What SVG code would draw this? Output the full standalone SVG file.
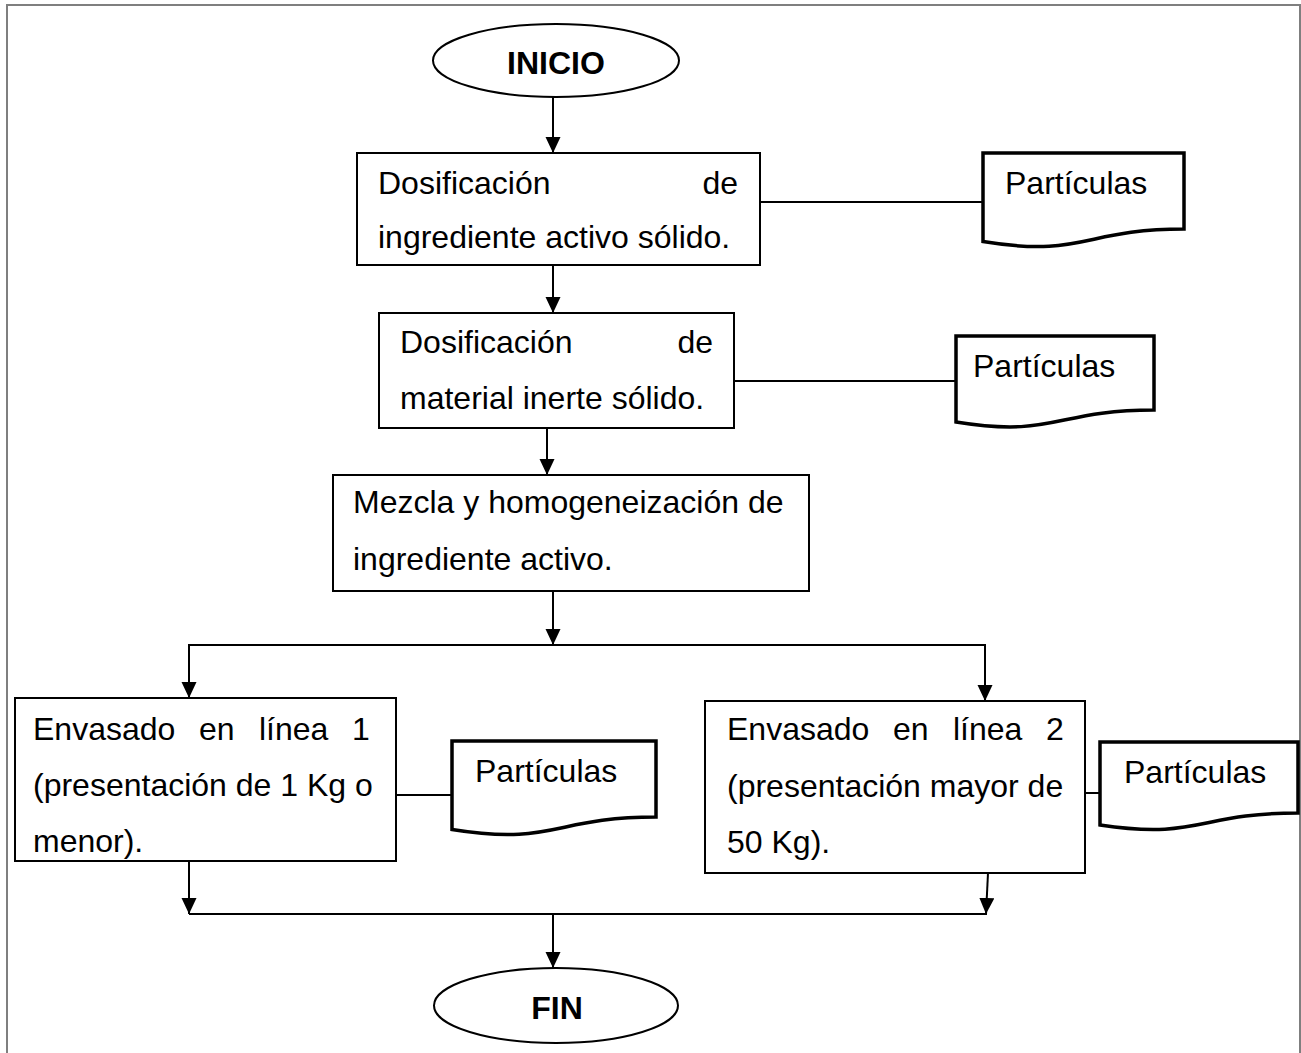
<svg xmlns="http://www.w3.org/2000/svg" width="1301" height="1053" viewBox="0 0 1301 1053">
  <style>
    .frame { fill: none; stroke: #7f7f7f; stroke-width: 2; }
    .box { fill: #ffffff; stroke: #000000; stroke-width: 2; }
    .term { fill: #ffffff; stroke: #000000; stroke-width: 2; }
    .doc { fill: #ffffff; stroke: #000000; stroke-width: 3.5; stroke-linejoin: miter; }
    .txt { font-family: "Liberation Sans", Arial, sans-serif; font-size: 32px; fill: #000000; }
    .bold { font-weight: bold; text-anchor: middle; }
    .end { text-anchor: end; }
    .link { fill: none; stroke: #000000; stroke-width: 2; }
  </style>
  <defs>
    <marker id="arrow" markerUnits="userSpaceOnUse" markerWidth="16" markerHeight="16" refX="16" refY="7.5" orient="auto">
      <path d="M0,0 L16,7.5 L0,15 Z" fill="#000000"/>
    </marker>
  </defs>

  <rect width="1301" height="1053" fill="#ffffff"/>
  <!-- page frame (open at the bottom) -->
  <path class="frame" d="M7,1053 V5 H1300 V1053"/>

  <!-- connectors -->
  <g id="connectors">
    <line class="link" x1="553" y1="97" x2="553" y2="153" marker-end="url(#arrow)"/>
    <line class="link" x1="553" y1="265" x2="553" y2="313" marker-end="url(#arrow)"/>
    <line class="link" x1="547" y1="428" x2="547" y2="475" marker-end="url(#arrow)"/>
    <line class="link" x1="553" y1="591" x2="553" y2="645" marker-end="url(#arrow)"/>
    <line class="link" x1="188" y1="645" x2="986" y2="645"/>
    <line class="link" x1="189" y1="645" x2="189" y2="698" marker-end="url(#arrow)"/>
    <line class="link" x1="985" y1="645" x2="985" y2="701" marker-end="url(#arrow)"/>
    <line class="link" x1="760" y1="202" x2="983" y2="202"/>
    <line class="link" x1="734" y1="381" x2="956" y2="381"/>
    <line class="link" x1="396" y1="795" x2="452" y2="795"/>
    <line class="link" x1="1085" y1="793" x2="1100" y2="793"/>
    <line class="link" x1="189" y1="861" x2="189" y2="914" marker-end="url(#arrow)"/>
    <line class="link" x1="988" y1="873" x2="986" y2="914" marker-end="url(#arrow)"/>
    <line class="link" x1="189" y1="914" x2="987" y2="914"/>
    <line class="link" x1="553" y1="914" x2="553" y2="968" marker-end="url(#arrow)"/>
  </g>

  <!-- start -->
  <g id="inicio">
    <ellipse class="term" cx="556" cy="60.5" rx="123" ry="36.5"/>
    <text class="txt bold" x="556" y="74">INICIO</text>
  </g>

  <!-- dosing of solid active ingredient -->
  <g id="dosificacion-activo">
    <rect class="box" x="357" y="153" width="403" height="112"/>
    <text class="txt" x="378" y="194">Dosificación</text>
    <text class="txt end" x="738" y="194">de</text>
    <text class="txt" x="378" y="248">ingrediente activo sólido.</text>
  </g>

  <g id="particulas-1">
    <path class="doc" d="M983,153 H1184 V229 C1083.5,229 1083.5,258 983,241.5 Z"/>
    <text class="txt" x="1005" y="194">Partículas</text>
  </g>

  <!-- dosing of solid inert material -->
  <g id="dosificacion-inerte">
    <rect class="box" x="379" y="313" width="355" height="115"/>
    <text class="txt" x="400" y="353">Dosificación</text>
    <text class="txt end" x="713" y="353">de</text>
    <text class="txt" x="400" y="409">material inerte sólido.</text>
  </g>

  <g id="particulas-2">
    <path class="doc" d="M956,336 H1154 V410 C1055,410 1055,438 956,422 Z"/>
    <text class="txt" x="973" y="377">Partículas</text>
  </g>

  <!-- mixing -->
  <g id="mezcla">
    <rect class="box" x="333" y="475" width="476" height="116"/>
    <text class="txt" x="353" y="513">Mezcla y homogeneización de</text>
    <text class="txt" x="353" y="570">ingrediente activo.</text>
  </g>

  <!-- packing line 1 -->
  <g id="envasado-1">
    <rect class="box" x="15" y="698" width="381" height="163"/>
    <text class="txt" y="740"><tspan x="33">Envasado</tspan><tspan x="199">en</tspan><tspan x="259">línea</tspan><tspan x="352">1</tspan></text>
    <text class="txt" x="33" y="796">(presentación de 1 Kg o</text>
    <text class="txt" x="33" y="852">menor).</text>
  </g>

  <g id="particulas-3">
    <path class="doc" d="M452,741 H656 V817 C554,817 554,846 452,829.5 Z"/>
    <text class="txt" x="475" y="782">Partículas</text>
  </g>

  <!-- packing line 2 -->
  <g id="envasado-2">
    <rect class="box" x="705" y="701" width="380" height="172"/>
    <text class="txt" y="740"><tspan x="727">Envasado</tspan><tspan x="893">en</tspan><tspan x="953">línea</tspan><tspan x="1046">2</tspan></text>
    <text class="txt" x="727" y="797">(presentación mayor de</text>
    <text class="txt" x="727" y="853">50 Kg).</text>
  </g>

  <g id="particulas-4">
    <path class="doc" d="M1100,742 H1298 V813 C1199,813 1199,840 1100,825 Z"/>
    <text class="txt" x="1124" y="783">Partículas</text>
  </g>

  <!-- end -->
  <g id="fin">
    <ellipse class="term" cx="556" cy="1005.5" rx="122" ry="37.5"/>
    <text class="txt bold" x="557" y="1019">FIN</text>
  </g>
</svg>
